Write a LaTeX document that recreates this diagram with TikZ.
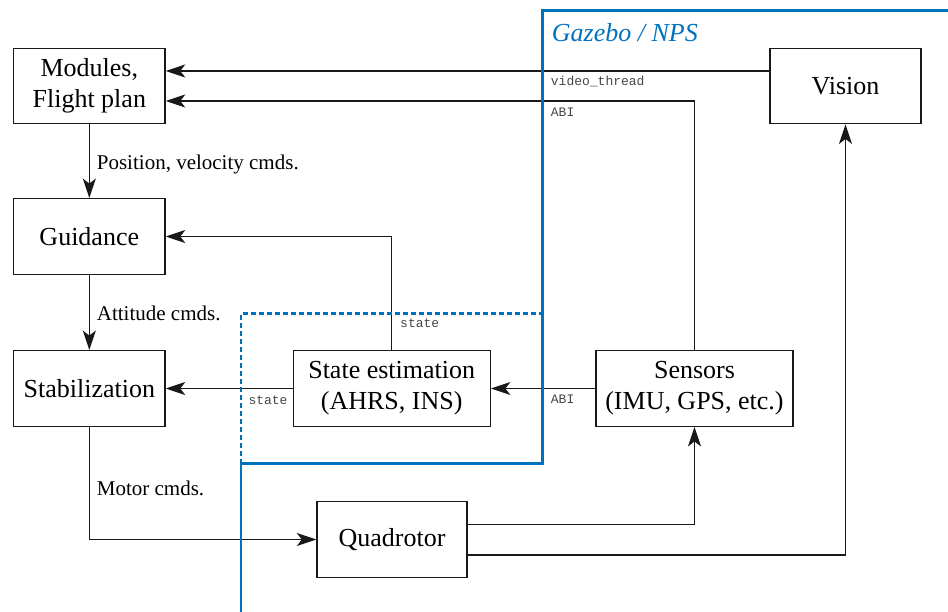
\documentclass[tikz,border=0pt]{standalone}
\usepackage{fontspec}
\setmainfont{Liberation Serif}
\setmonofont{Liberation Mono}
\usetikzlibrary{arrows.meta}
\definecolor{simblue}{RGB}{0,114,189}
\definecolor{linegray}{RGB}{25,25,25}
\definecolor{tagtext}{RGB}{70,70,70}
\tikzset{
  block/.style={draw=linegray, line width=1.4pt, minimum height=75.5pt,
    align=center, inner sep=2pt, font=\fontsize{26}{31}\selectfont},
  wire/.style={draw=linegray, line width=1.4pt},
  arr/.style={wire, -{Stealth[length=19.5pt, width=13pt, inset=5pt]}},
  cmdlabel/.style={anchor=base west, inner sep=0pt, font=\fontsize{21}{25}\selectfont},
  tag/.style={anchor=base west, inner sep=0pt, text=tagtext, font=\ttfamily\fontsize{13}{15}\selectfont},
  simline/.style={draw=simblue, line width=2.8pt},
}
\begin{document}
\begin{tikzpicture}[x=1pt, y=-1pt]
\useasboundingbox (0,0) rectangle (948,612);

% blocks
\node[block, minimum width=151.5pt] (modules)  at (89.3,86)  {Modules,\\Flight plan};
\node[block, minimum width=151.5pt] (guidance) at (89.3,236.5) {Guidance};
\node[block, minimum width=151.5pt] (stab)     at (89.3,388.5) {Stabilization};
\node[block, minimum width=197pt]   (state)    at (391.7,388.5) {State estimation\\(AHRS, INS)};
\node[block, minimum width=197pt]   (sensors)  at (694.5,388.5) {Sensors\\(IMU, GPS, etc.)};
\node[block, minimum width=151pt]   (vision)   at (845.5,86) {Vision};
\node[block, minimum width=150pt]   (quad)     at (392,539.5) {Quadrotor};

% connectors
\draw[arr] ([yshift=15pt]vision.west) -- ([yshift=15pt]modules.east);
\draw[arr] (sensors.north) |- ([yshift=-15pt]modules.east);
\draw[arr] (modules.south) -- (guidance.north);
\draw[arr] (state.north) |- (guidance.east);
\draw[arr] (guidance.south) -- (stab.north);
\draw[arr] (state.west) -- (stab.east);
\draw[arr] (sensors.west) -- (state.east);
\draw[arr] (stab.south) |- (quad.west);
\draw[arr] ([yshift=15pt]quad.east) -| (sensors.south);
\draw[arr] ([yshift=-15.5pt]quad.east) -| (vision.south);

% connector labels
\node[cmdlabel] (lpos) at (96.7,170)   {Position, velocity cmds.};
\node[cmdlabel] (latt) at (96.7,320.7) {Attitude cmds.};
\node[cmdlabel] (lmot) at (96.7,495)   {Motor cmds.};
\node[tag] (tvideo)  at (550.7,86)    {video\_thread};
\node[tag] (tabiup)  at (550.7,116.7) {ABI};
\node[tag] (tstup)   at (400,327.3)   {state};
\node[tag] (tstlow)  at (248.3,404)   {state};
\node[tag] (tabilow) at (550.7,403.3) {ABI};

% simulation boundary
\draw[simline] (948,10.3) -- (542.7,10.3) -- (542.7,463.7) -- (241,463.7) -- (241,612);
\draw[simline, dash pattern=on 5pt off 3pt] (241,463.7) -- (241,313.3) -- (542.7,313.3);
\node[anchor=base west, inner sep=0pt, text=simblue, font=\itshape\fontsize{26}{31}\selectfont] (gazebo) at (551.7,41.3) {Gazebo / NPS};
\end{tikzpicture}
\end{document}
